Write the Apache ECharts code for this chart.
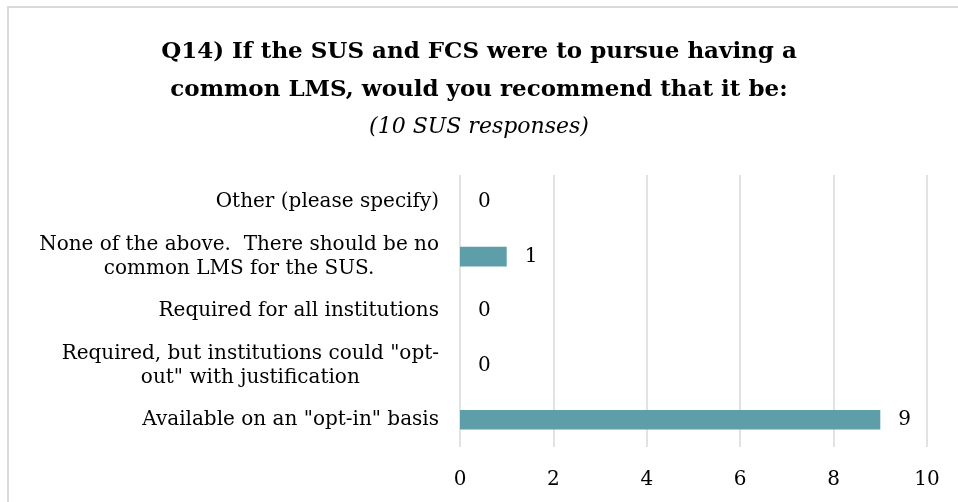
<!DOCTYPE html>
<html>
<head>
<meta charset="utf-8">
<script src="https://cdn.jsdelivr.net/npm/echarts@6/dist/echarts.min.js"></script>
<style>
  html, body { margin: 0; padding: 0; background: #fff; }
  #chart { width: 958px; height: 502px; }
</style>
</head>
<body>
<div id="chart"></div>
<script>
// Answer options (bottom to top as listed on the category axis)
const categories = [
  'Available on an "opt-in" basis',
  'Required, but institutions could "opt-\nout" with justification',
  'Required for all institutions',
  'None of the above.  There should be no\ncommon LMS for the SUS.',
  'Other (please specify)'
];
// Number of SUS responses per option
const responses = [9, 0, 0, 1, 0];
// Value-axis ticks
const xTicks = [0, 2, 4, 6, 8, 10];

const titleLines = ['Q14) If the SUS and FCS were to pursue having a', 'common LMS, would you recommend that it be:'];
const subtitleText = '(10 SUS responses)';

const serif = '"DejaVu Serif", "Liberation Serif", serif';

const chart = echarts.init(document.getElementById('chart'));
chart.setOption({
  animation: false,
  graphic: [{
    type: 'rect',
    shape: { x: 8, y: 7, width: 1000, height: 600 },
    style: { fill: 'none', stroke: '#d9d9d9', lineWidth: 2 },
    z: -1
  }],
  title: [{
    text: titleLines.join('\n'),
    left: 'center',
    top: 28,
    textStyle: { fontFamily: serif, fontWeight: 'bold', fontSize: 23, color: '#000', lineHeight: 38 }
  }, {
    text: subtitleText,
    left: 'center',
    top: 111,
    textStyle: { fontFamily: serif, fontStyle: 'italic', fontWeight: 'normal', fontSize: 22, color: '#000' }
  }],
  grid: { left: 460, right: 31, top: 175, bottom: 55 },
  xAxis: {
    type: 'value',
    min: xTicks[0],
    max: xTicks[xTicks.length - 1],
    interval: 2,
    axisLine: { show: false },
    axisTick: { show: false },
    splitLine: { show: true, lineStyle: { color: '#d9d9d9', width: 1.5 } },
    axisLabel: { fontFamily: serif, fontSize: 20, color: '#000', margin: 23 }
  },
  yAxis: {
    type: 'category',
    data: categories,
    axisLine: { show: false },
    axisTick: { show: false },
    axisLabel: {
      margin: 21,
      formatter: function (v) {
        return v.split('\n').map(function (l) { return '{c|' + l + '}'; }).join('\n');
      },
      rich: {
        c: { fontFamily: serif, fontSize: 20, color: '#000', align: 'center', lineHeight: 24 }
      }
    }
  },
  series: [{
    type: 'bar',
    data: responses,
    barCategoryGap: '64%',
    itemStyle: { color: '#5D9EA8' },
    label: {
      show: true,
      position: 'right',
      distance: 18,
      fontFamily: serif,
      fontSize: 20,
      color: '#000'
    }
  }]
});
</script>
</body>
</html>
